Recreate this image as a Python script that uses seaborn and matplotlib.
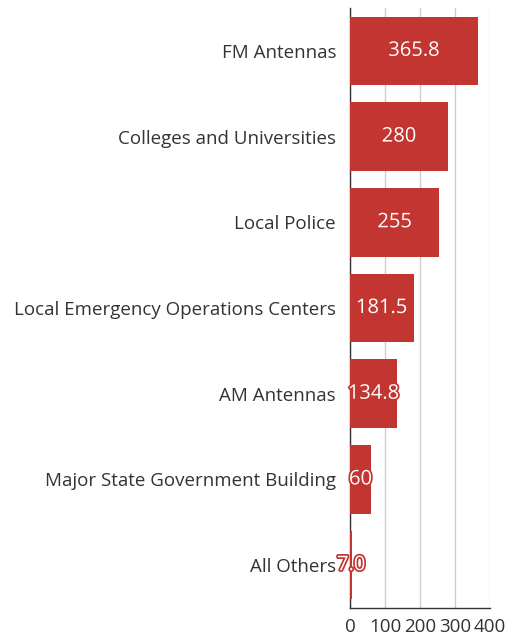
import numpy as np
import pandas as pd
import matplotlib
matplotlib.use("Agg")
import matplotlib.pyplot as plt
import matplotlib.patheffects as pe
import seaborn as sns

categories = ["FM Antennas", "Colleges and Universities", "Local Police",
              "Local Emergency Operations Centers", "AM Antennas",
              "Major State Government Building", "All Others"]
values = [365.8, 280, 255, 181.5, 134.8, 60, 7.0]
value_labels = ["365.8", "280", "255", "181.5", "134.8", "60", "7.0"]
x_ticks = [0, 100, 200, 300, 400]

df = pd.DataFrame({"category": categories, "value": values})

sns.set_style("white")
plt.rcParams['font.family'] = ['Open Sans', 'DejaVu Sans']

fig = plt.figure(figsize=(5.07, 6.38), dpi=100)
ax = fig.add_axes([350 / 507, 1 - 608 / 638, 140 / 507, 600 / 638])

red = "#c23531"
sns.barplot(data=df, y="category", x="value", color=red, orient="h",
            width=0.8, saturation=1, linewidth=0, ax=ax, zorder=3)

ax.set_xlim(0, 400)
ax.set_ylim(len(categories) - 0.5, -0.5)
ax.set_xticks(x_ticks)
ax.set_xticklabels([str(t) for t in x_ticks], fontsize=13.5, color="#333333")
ax.xaxis.grid(True, color="#cccccc", linewidth=1, zorder=0)
ax.set_axisbelow(True)
ax.set_xlabel("")
ax.set_ylabel("")

ax.set_yticks(range(len(categories)))
ax.set_yticklabels(categories, fontsize=13.5, color="#333333")
ax.tick_params(axis="y", length=0, pad=10)
ax.set_yticks(np.arange(-0.5, len(categories), 1), minor=True)
ax.tick_params(axis="y", which="minor", length=5, width=1, color="#333333")
ax.tick_params(axis="x", length=5, width=1, color="#333333", pad=2)

for s in ["top", "right"]:
    ax.spines[s].set_visible(False)
for s in ["left", "bottom"]:
    ax.spines[s].set_color("#333333")
    ax.spines[s].set_linewidth(1)

for i, (v, lab) in enumerate(zip(values, value_labels)):
    ax.text(v / 2, i, lab, ha="center", va="center", fontsize=14.5,
            color="white", zorder=5,
            path_effects=[pe.withStroke(linewidth=2.5, foreground=red)])

fig.savefig("out.png", dpi=100)
